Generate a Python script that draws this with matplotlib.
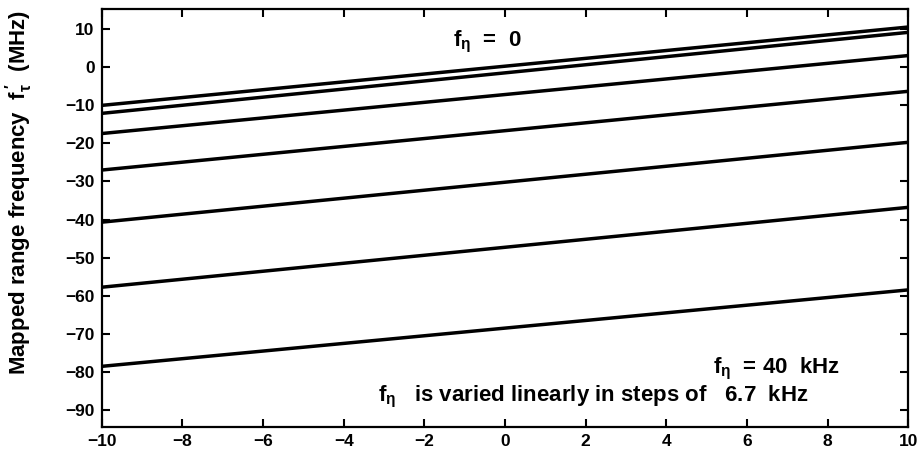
import numpy as np
import matplotlib
matplotlib.use("Agg")
import matplotlib.pyplot as plt

plt.rcParams["font.family"] = ["Liberation Sans", "DejaVu Sans"]
plt.rcParams["mathtext.fontset"] = "custom"
plt.rcParams["mathtext.rm"] = "Liberation Sans:bold"
plt.rcParams["mathtext.it"] = "Liberation Sans:bold"
plt.rcParams["mathtext.bf"] = "Liberation Sans:bold"

# azimuth-time endpoints (x) and mapped range frequency at each end (MHz)
x_ends = [-10, 10]
left_vals = [-10.0, -12.1, -17.4, -27.0, -40.7, -57.8, -78.6]
right_vals = [10.6, 9.2, 3.1, -6.3, -19.7, -36.8, -58.5]

x_ticks = list(range(-10, 11, 2))
y_ticks = list(range(-90, 11, 10))

fig = plt.figure(figsize=(9.24, 4.57), dpi=100)
ax = fig.add_axes([0.110, 0.066, 0.873, 0.914])

for lv, rv in zip(left_vals, right_vals):
    ax.plot(x_ends, [lv, rv], color="black", linewidth=2.5, solid_capstyle="butt")

ax.set_xlim(-10, 10)
ax.set_ylim(-94.5, 15.3)
ax.set_xticks(x_ticks)
ax.set_yticks(y_ticks)
ax.set_xticklabels([f"\u2212{-t}" if t < 0 else str(t) for t in x_ticks])
ax.set_yticklabels([f"\u2212{-t}" if t < 0 else str(t) for t in y_ticks])
ax.tick_params(direction="in", top=True, right=True, length=6, width=1.5,
               labelsize=12.5, pad=5)
for lab in ax.get_xticklabels() + ax.get_yticklabels():
    lab.set_fontweight("bold")
for sp in ax.spines.values():
    sp.set_linewidth(1.6)

ax.set_ylabel(r"Mapped range frequency  $f_{\tau}^{\,\prime}$  (MHz)",
              fontsize=16, fontweight="bold")
ax.yaxis.set_label_coords(-0.083, 0.56)

ax.text(-1.3, 6.8, r"$f_{\eta}$  =  0", fontsize=16, fontweight="bold",
        va="center", ha="left")
ax.text(5.15, -79.3, r"$f_{\eta}$  = 40  kHz", fontsize=16, fontweight="bold",
        va="center", ha="left")
ax.text(-3.15, -86.6, r"$f_{\eta}$   is varied linearly in steps of   6.7  kHz",
        fontsize=16, fontweight="bold", va="center", ha="left")

fig.savefig("out.png", dpi=100)
